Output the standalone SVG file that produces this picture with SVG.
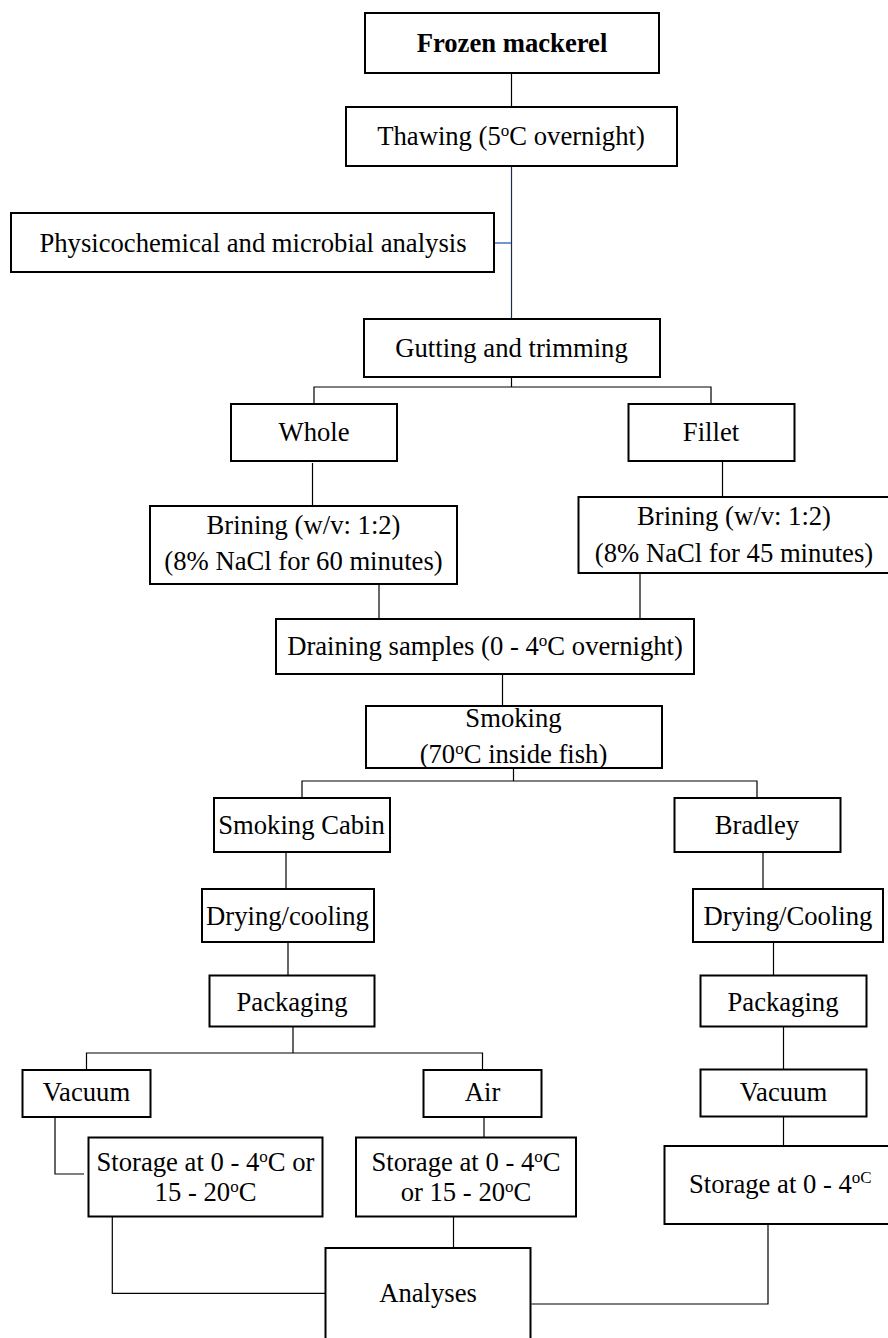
<svg xmlns="http://www.w3.org/2000/svg" width="888" height="1338" viewBox="0 0 888 1338">
<style>
.box{fill:#fff;stroke:#000;stroke-width:2}
.t{font-family:"Liberation Serif","Times New Roman",serif;font-size:26.67px;fill:#000;text-anchor:middle}
.b{font-weight:bold}
.s{font-size:17px}
.c{fill:none;stroke:#000;stroke-width:1.2}
</style>
<rect width="888" height="1338" fill="#fff"/>
<g id="connectors">
<path class="c" d="M511.5 73V107"/>
<path class="c" style="stroke:#1f2d4d" d="M511.5 166V319"/>
<path class="c" style="stroke:#4472c4;stroke-width:1.5" d="M494 243H511"/>
<path class="c" d="M511.5 377V387M314 404V387H711V404"/>
<path class="c" d="M312.5 463V506"/>
<path class="c" d="M722.5 459V497"/>
<path class="c" d="M379 584V619"/>
<path class="c" d="M640 573V619"/>
<path class="c" d="M502.5 674V706"/>
<path class="c" d="M513.5 768V781M302 798V781H757V798"/>
<path class="c" d="M286 852V889"/>
<path class="c" d="M763 852V889"/>
<path class="c" d="M288 942V975.5"/>
<path class="c" d="M773.5 942V975.5"/>
<path class="c" d="M293 1026.5V1053M86.5 1070V1053H482.5V1070"/>
<path class="c" d="M783.5 1026.5V1069.5"/>
<path class="c" d="M55 1117V1174H84"/>
<path class="c" d="M484 1117V1139"/>
<path class="c" d="M783.5 1116.5V1150"/>
<path class="c" d="M112.3 1216.5V1293.3H325.5"/>
<path class="c" d="M453.5 1216.5V1249"/>
<path class="c" d="M768 1224V1304H531.5"/>
</g>
<g id="frozen"><rect class="box" x="365" y="13" width="294" height="60"/><text class="t b" x="512" y="51.5">Frozen mackerel</text></g>
<g id="thawing"><rect class="box" x="346" y="107" width="331" height="59"/><text class="t" x="511" y="145">Thawing (5<tspan class="s" dy="-9">o</tspan><tspan dy="9">C overnight)</tspan></text></g>
<g id="physico"><rect class="box" x="11" y="213" width="483" height="59"/><text class="t" x="253" y="251.5">Physicochemical and microbial analysis</text></g>
<g id="gutting"><rect class="box" x="364" y="319" width="296" height="58"/><text class="t" x="511.5" y="356.5">Gutting and trimming</text></g>
<g id="whole"><rect class="box" x="231" y="404" width="166" height="57"/><text class="t" x="314" y="440.5">Whole</text></g>
<g id="fillet"><rect class="box" x="628.5" y="404" width="166" height="57"/><text class="t" x="711" y="440.5">Fillet</text></g>
<g id="brining1"><rect class="box" x="150" y="506" width="307" height="78"/><text class="t" x="303.5" y="534">Brining (w/v: 1:2)</text><text class="t" x="303.5" y="570">(8% NaCl for 60 minutes)</text></g>
<g id="brining2"><rect class="box" x="578.5" y="497" width="312" height="76"/><text class="t" x="734" y="525">Brining (w/v: 1:2)</text><text class="t" x="734" y="562">(8% NaCl for 45 minutes)</text></g>
<g id="draining"><rect class="box" x="276" y="619" width="418" height="55"/><text class="t" x="485" y="655">Draining samples (0 - 4<tspan class="s" dy="-9">o</tspan><tspan dy="9">C overnight)</tspan></text></g>
<g id="smoking"><rect class="box" x="366" y="706" width="296" height="62"/><text class="t" x="513.5" y="726.5">Smoking</text><text class="t" x="513.5" y="762.5">(70<tspan class="s" dy="-9">o</tspan><tspan dy="9">C inside fish)</tspan></text></g>
<g id="cabin"><rect class="box" x="214" y="798" width="176" height="54"/><text class="t" x="301.5" y="833.5">Smoking Cabin</text></g>
<g id="bradley"><rect class="box" x="674.5" y="798" width="166" height="54"/><text class="t" x="757" y="833.5">Bradley</text></g>
<g id="dry1"><rect class="box" x="202" y="889" width="172" height="53"/><text class="t" x="287.5" y="925">Drying/cooling</text></g>
<g id="dry2"><rect class="box" x="693" y="889" width="190" height="53"/><text class="t" x="788" y="925">Drying/Cooling</text></g>
<g id="pack1"><rect class="box" x="209.5" y="975.5" width="165" height="51"/><text class="t" x="292" y="1010.7">Packaging</text></g>
<g id="pack2"><rect class="box" x="700.5" y="975.5" width="166" height="51"/><text class="t" x="783" y="1010.7">Packaging</text></g>
<g id="vac1"><rect class="box" x="22.5" y="1070" width="128" height="47"/><text class="t" x="86.5" y="1101">Vacuum</text></g>
<g id="air"><rect class="box" x="423.5" y="1070" width="118" height="47"/><text class="t" x="482.5" y="1101">Air</text></g>
<g id="vac2"><rect class="box" x="700.5" y="1069.5" width="166" height="47"/><text class="t" x="783.5" y="1101">Vacuum</text></g>
<g id="storage1"><rect class="box" x="88.5" y="1137.5" width="234" height="79"/><text class="t" x="205.5" y="1171">Storage at 0 - 4<tspan class="s" dy="-9">o</tspan><tspan dy="9">C or</tspan></text><text class="t" x="205.5" y="1201">15 - 20<tspan class="s" dy="-9">o</tspan><tspan dy="9">C</tspan></text></g>
<g id="storage2"><rect class="box" x="356" y="1137.5" width="220" height="79"/><text class="t" x="466" y="1171">Storage at 0 - 4<tspan class="s" dy="-9">o</tspan><tspan dy="9">C</tspan></text><text class="t" x="466" y="1201">or 15 - 20<tspan class="s" dy="-9">o</tspan><tspan dy="9">C</tspan></text></g>
<g id="storage3"><rect class="box" x="664.5" y="1146" width="226" height="78"/><text class="t" x="689" y="1193.3" style="text-anchor:start">Storage at 0 - 4<tspan class="s" dy="-10">oC</tspan></text></g>
<g id="analyses"><rect class="box" x="325.5" y="1248" width="205" height="120"/><text class="t" x="428" y="1301.7">Analyses</text></g>
</svg>
